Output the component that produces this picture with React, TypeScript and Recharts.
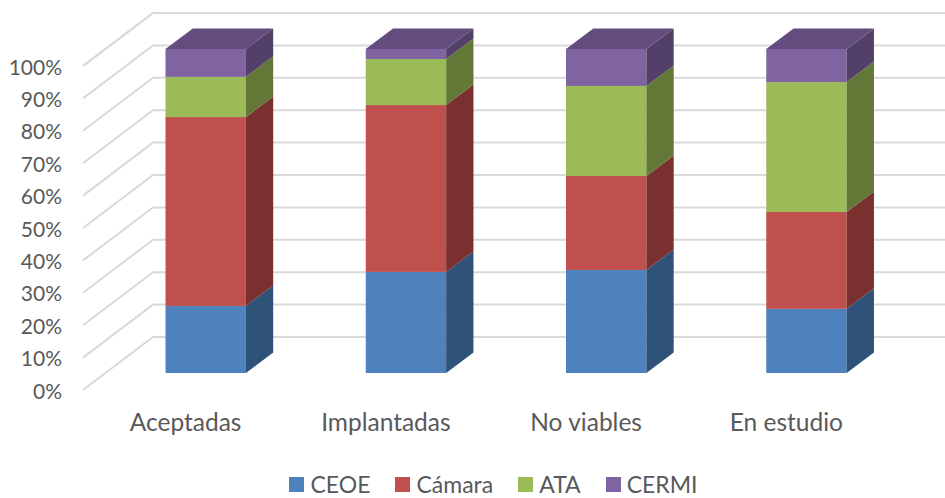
import { Bar, BarChart, CartesianGrid, Legend, XAxis, YAxis } from "recharts";

const categories = ["Aceptadas", "Implantadas", "No viables", "En estudio"];
const ceoe = [20.7, 31.2, 31.8, 19.8];
const camara = [58.3, 51.5, 29.0, 29.9];
const ata = [12.4, 14.2, 27.8, 40.1];
const cermi = [8.6, 3.1, 11.4, 10.2];
const yTicks = [0, 10, 20, 30, 40, 50, 60, 70, 80, 90, 100];

const rows = categories.map((name, i) => ({
  name,
  CEOE: ceoe[i],
  "Cámara": camara[i],
  ATA: ata[i],
  CERMI: cermi[i],
}));

const FONT = "Lato, sans-serif";
const TEXT = "#595959";

// depth of each column, and of the floor/wall grid
const BAR_DX = 27.3;
const BAR_DY = 20.5;
const GRID_FRONT_X = 83;
const GRID_BACK_X = 153;
const GRID_FRONT_DY = 17;
const GRID_BACK_DY = -36;

function box(front: string, side: string, top?: string) {
  return (props: any) => {
    const { x, y, width, height } = props;
    const r = x + width;
    return (
      <g>
        <rect x={x} y={y} width={width} height={height} fill={front} />
        <polygon
          points={`${r},${y} ${r + BAR_DX},${y - BAR_DY} ${r + BAR_DX},${y + height - BAR_DY} ${r},${y + height}`}
          fill={side}
        />
        {top && (
          <polygon
            points={`${x},${y} ${x + BAR_DX},${y - BAR_DY} ${r + BAR_DX},${y - BAR_DY} ${r},${y}`}
            fill={top}
          />
        )}
      </g>
    );
  };
}

function gridLine(props: any) {
  const { y1, index } = props;
  return (
    <polyline
      key={index}
      points={`${GRID_FRONT_X},${y1 + GRID_FRONT_DY} ${GRID_BACK_X},${y1 + GRID_BACK_DY} 945,${y1 + GRID_BACK_DY}`}
      fill="none"
      stroke="#D9D9D9"
      strokeWidth={2}
    />
  );
}

function YTick({ y, payload }: any) {
  return (
    <text x={62} y={y + GRID_FRONT_DY} textAnchor="end" dominantBaseline="central" fontSize={21} fontFamily={FONT} fill={TEXT}>
      {`${payload.value}%`}
    </text>
  );
}

function XTick({ x, y, payload }: any) {
  return (
    <text x={x - 20} y={y + 50} textAnchor="middle" fontSize={24.5} fontFamily={FONT} fill={TEXT}>
      {payload.value}
    </text>
  );
}

function LegendRow({ payload }: any) {
  return (
    <div style={{ height: 0, display: "flex", justifyContent: "center", gap: 25, paddingLeft: 42 }}>
      {(payload ?? []).map((item: any) => (
        <span key={item.value} style={{ display: "flex", alignItems: "center", gap: 6, height: 24, fontFamily: FONT, fontSize: 23, color: TEXT }}>
          <span style={{ width: 15, height: 15, background: item.color, display: "block" }} />
          {item.value}
        </span>
      ))}
    </div>
  );
}

export default function App() {
  return (
    <div style={{ position: "absolute", left: 0, top: 0, width: 945, height: 498, background: "#fff" }}>
      <BarChart
        width={945}
        height={498}
        data={rows}
        barSize={80.4}
        margin={{ top: 49, right: 38.5, left: 0, bottom: 65 }}
        style={{ overflow: "visible" }}
      >
        <CartesianGrid vertical={false} horizontal={gridLine} />
        <XAxis dataKey="name" height={60} axisLine={false} tickLine={false} tick={XTick} interval={0} />
        <YAxis width={105.5} domain={[0, 100]} ticks={yTicks} axisLine={false} tickLine={false} tick={YTick} interval={0} />
        <Legend
          content={LegendRow}
          itemSorter={null}
          wrapperStyle={{ top: 472, left: 0, width: 945, height: 0 }}
        />
        <Bar dataKey="CEOE" stackId="a" fill="#4F81BD" shape={box("#4F81BD", "#2F5279")} isAnimationActive={false} />
        <Bar dataKey="Cámara" stackId="a" fill="#C0504D" shape={box("#C0504D", "#7A302E")} isAnimationActive={false} />
        <Bar dataKey="ATA" stackId="a" fill="#9BBB59" shape={box("#9BBB59", "#637837")} isAnimationActive={false} />
        <Bar dataKey="CERMI" stackId="a" fill="#8064A2" shape={box("#8064A2", "#524068", "#634D7E")} isAnimationActive={false} />
      </BarChart>
    </div>
  );
}
